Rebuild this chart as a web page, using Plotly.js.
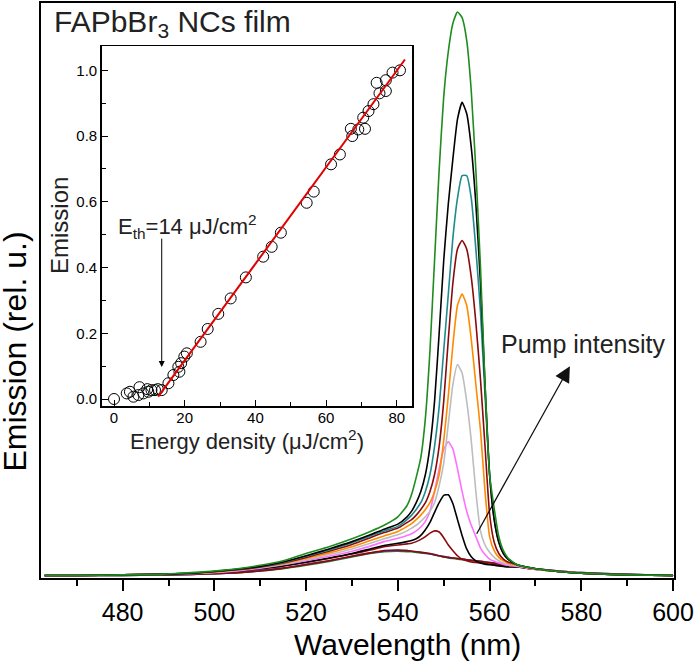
<!DOCTYPE html>
<html>
<head>
<meta charset="utf-8">
<script src="https://cdn.plot.ly/plotly-3.0.1.min.js"></script>
<style>html,body{margin:0;padding:0;background:#fff;}#chart{width:694px;height:661px;}</style>
</head>
<body>
<div id="chart"></div>
<script>
// Wavelength grid (nm)
const wavelength = [463,470,480,488,495,500,505,510,515,520,525,530,534,537,540,542,543,544,545,546,547,548,549,550,551,552,553,554,555,556,557,558,559,560,561,562,563,564,566,568,571,575,580,590,600];

// Spontaneous emission spectra (below threshold)
const spontRed   = [0.001,0.001,0.001,0.002,0.003,0.004,0.006,0.009,0.014,0.020,0.027,0.035,0.041,0.045,0.046,0.045,0.044,0.043,0.042,0.041,0.040,0.038,0.036,0.034,0.033,0.032,0.031,0.030,0.029,0.028,0.027,0.026,0.025,0.024,0.023,0.022,0.021,0.020,0.017,0.015,0.012,0.009,0.006,0.003,0.001];
const spontBlue  = [0.001,0.001,0.001,0.002,0.003,0.004,0.006,0.010,0.014,0.021,0.027,0.035,0.041,0.044,0.045,0.045,0.044,0.043,0.042,0.041,0.039,0.038,0.036,0.035,0.033,0.032,0.031,0.030,0.029,0.028,0.027,0.026,0.025,0.024,0.023,0.022,0.021,0.020,0.017,0.015,0.012,0.009,0.006,0.003,0.001];
const spontGreen = [0.001,0.001,0.001,0.002,0.003,0.004,0.006,0.009,0.013,0.019,0.026,0.034,0.040,0.043,0.044,0.043,0.043,0.042,0.041,0.040,0.039,0.037,0.036,0.034,0.032,0.031,0.030,0.029,0.028,0.027,0.026,0.025,0.024,0.023,0.022,0.021,0.020,0.019,0.017,0.014,0.011,0.008,0.005,0.003,0.001];

// ASE spectra, increasing pump intensity
const ase1 = [0.001,0.001,0.002,0.003,0.004,0.006,0.009,0.013,0.018,0.024,0.031,0.039,0.046,0.052, 0.055,0.057,0.058,0.061,0.065,0.070,0.076,0.080,0.078,0.068,0.055,0.045,0.036,0.030,0.027,0.025,0.024,0.023,0.022,0.021,0.020,0.019,0.018,0.017, 0.016,0.014,0.011,0.008,0.005,0.002,0.001];
const ase2 = [0.001,0.001,0.002,0.003,0.004,0.006,0.009,0.013,0.018,0.025,0.032,0.040,0.048,0.054, 0.058,0.061,0.063,0.066,0.072,0.082,0.095,0.113,0.130,0.143,0.144,0.128,0.100,0.072,0.048,0.034,0.027,0.023,0.021,0.020,0.019,0.018,0.017,0.016, 0.016,0.014,0.011,0.008,0.005,0.002,0.001];
const ase3 = [0.001,0.001,0.002,0.003,0.004,0.006,0.009,0.014,0.020,0.027,0.035,0.044,0.053,0.061, 0.067,0.072,0.075,0.080,0.087,0.097,0.115,0.150,0.190,0.225,0.238,0.225,0.190,0.150,0.115,0.090,0.070,0.050,0.038,0.030,0.026,0.023,0.021,0.019, 0.017,0.014,0.011,0.008,0.005,0.002,0.001];
const ase4 = [0.001,0.001,0.002,0.003,0.005,0.007,0.010,0.015,0.021,0.029,0.038,0.048,0.058,0.066, 0.073,0.080,0.085,0.090,0.097,0.105,0.115,0.130,0.160,0.200,0.270,0.340,0.375,0.360,0.310,0.240,0.150,0.080,0.055,0.042,0.033,0.027,0.023,0.021, 0.018,0.015,0.011,0.008,0.005,0.002,0.001];
const ase5 = [0.001,0.001,0.002,0.003,0.005,0.007,0.011,0.016,0.022,0.031,0.041,0.052,0.063,0.071, 0.079,0.088,0.093,0.100,0.108,0.118,0.130,0.150,0.180,0.240,0.320,0.410,0.480,0.500,0.480,0.420,0.340,0.260,0.150,0.070,0.045,0.033,0.027,0.023, 0.019,0.015,0.011,0.008,0.005,0.002,0.001];
const ase6 = [0.001,0.001,0.002,0.003,0.005,0.008,0.011,0.016,0.023,0.033,0.044,0.056,0.068,0.077, 0.085,0.095,0.100,0.108,0.118,0.130,0.150,0.180,0.230,0.310,0.420,0.520,0.580,0.595,0.580,0.530,0.450,0.350,0.230,0.110,0.060,0.040,0.030,0.025, 0.020,0.016,0.012,0.008,0.005,0.002,0.001];
const ase7 = [0.001,0.001,0.002,0.003,0.005,0.008,0.012,0.017,0.024,0.035,0.046,0.059,0.071,0.080, 0.088,0.100,0.108,0.118,0.130,0.150,0.180,0.230,0.300,0.400,0.500,0.600,0.670,0.710,0.710,0.670,0.580,0.470,0.320,0.180,0.100,0.060,0.040,0.030, 0.020,0.016,0.012,0.008,0.005,0.002,0.001];
const ase8 = [0.001,0.001,0.002,0.003,0.005,0.008,0.012,0.017,0.025,0.036,0.048,0.061,0.073,0.083, 0.092,0.105,0.115,0.130,0.150,0.180,0.230,0.310,0.430,0.560,0.660,0.740,0.810,0.840,0.820,0.760,0.660,0.520,0.340,0.180,0.100,0.060,0.040,0.030, 0.020,0.016,0.012,0.008,0.005,0.002,0.001];
const ase9 = [0.001,0.001,0.002,0.003,0.006,0.009,0.013,0.019,0.027,0.040,0.052,0.066,0.079,0.090, 0.105,0.125,0.145,0.175,0.210,0.280,0.400,0.560,0.720,0.850,0.930,0.980,1.000,0.990,0.950,0.860,0.720,0.550,0.340,0.180,0.120,0.070,0.045,0.032, 0.020,0.016,0.012,0.008,0.005,0.002,0.001];

// Inset: emission vs energy density
const energyDensity = [0,3.6,4.5,5.5,6.9,7.2,8.3,9.4,9.7,10.6,11.6,12.4,13.5,15.4,16.8,18.2,18.5,19.0,19.9,20.6,24.5,26.5,29.5,33.0,37.3,42.2,44.6,47.2,54.5,56.5,61.4,63.9,67.0,67.4,69.1,70.5,71.0,72.0,73.4,74.3,75.1,76.9,76.9,78.8,80.9];
const emissionInt   = [0.0,0.017,0.022,0.007,0.012,0.036,0.017,0.030,0.022,0.027,0.027,0.030,0.027,0.048,0.073,0.098,0.083,0.109,0.129,0.139,0.174,0.213,0.259,0.306,0.370,0.433,0.463,0.506,0.597,0.631,0.714,0.744,0.822,0.800,0.820,0.856,0.822,0.876,0.897,0.962,0.930,0.970,0.937,0.993,1.000];
const fitX = [12.5, 82.3];
const fitY = [0.007, 1.033];

const xTicks = [480,500,520,540,560,580,600];
const insetXTicks = [0,20,40,60,80];
const insetYTicks = [0.0,0.2,0.4,0.6,0.8,1.0];

const series = [
  {y: spontGreen, c: '#1e8c1e'},
  {y: spontBlue,  c: '#3a46c8'},
  {y: spontRed,   c: '#8b0a0a'},
  {y: ase1, c: '#8b0a0a'},
  {y: ase2, c: '#000000'},
  {y: ase3, c: '#ff70ff'},
  {y: ase4, c: '#bdbdbd'},
  {y: ase5, c: '#ff8a00'},
  {y: ase6, c: '#8b0a0a'},
  {y: ase7, c: '#208a90'},
  {y: ase8, c: '#000000'},
  {y: ase9, c: '#1e8c1e'}
];

const traces = series.map(s => ({
  x: wavelength, y: s.y, type: 'scatter', mode: 'lines',
  line: {color: s.c, width: 1.6, shape: 'spline', smoothing: 0.5},
  xaxis: 'x', yaxis: 'y', hoverinfo: 'skip'
}));

traces.push({
  x: energyDensity, y: emissionInt, type: 'scatter', mode: 'markers',
  marker: {symbol: 'circle-open', size: 11, color: '#000', line: {width: 1, color: '#000'}},
  xaxis: 'x2', yaxis: 'y2'
});
traces.push({
  x: fitX, y: fitY, type: 'scatter', mode: 'lines',
  line: {color: '#e00000', width: 2},
  xaxis: 'x2', yaxis: 'y2'
});

const L = 41, R = 674, T = 3, B = 578;
const px = v => (v - L) / (R - L);
const py = v => (B - v) / (B - T);
const FONT = 'Liberation Sans, Arial, sans-serif';

const layout = {
  width: 694, height: 661,
  margin: {l: L, r: 694 - R, t: T, b: 661 - B},
  paper_bgcolor: '#fff', plot_bgcolor: 'rgba(0,0,0,0)',
  showlegend: false,
  font: {family: FONT, color: '#000'},
  xaxis: {
    domain: [0, 1], range: [462.2, 600.2],
    tickmode: 'array', tickvals: xTicks, ticktext: xTicks.map(String),
    ticks: 'outside', ticklen: 11, tickwidth: 2, tickcolor: '#000',
    minor: {dtick: 10, tick0: 470, ticks: 'outside', ticklen: 6, tickwidth: 2, tickcolor: '#000'},
    showline: true, linewidth: 2, linecolor: '#000', mirror: true,
    showgrid: false, zeroline: false,
    tickfont: {size: 25, family: FONT}
  },
  yaxis: {
    domain: [0, 1], range: [-0.0035, 1.016],
    showticklabels: false, ticks: '',
    showline: true, linewidth: 2, linecolor: '#000', mirror: true,
    showgrid: false, zeroline: false
  },
  xaxis2: {
    anchor: 'y2', domain: [px(101.7), px(412)], range: [-3.48, 84.3],
    tickmode: 'array', tickvals: insetXTicks, ticktext: insetXTicks.map(String),
    ticks: 'inside', ticklen: 6, tickwidth: 1, tickcolor: '#000',
    minor: {dtick: 10, tick0: 0, ticks: 'inside', ticklen: 4, tickwidth: 1, tickcolor: '#000'},
    showline: true, linewidth: 1.5, linecolor: '#000', mirror: true,
    showgrid: false, zeroline: false, ticklabelstandoff: -3,
    tickfont: {size: 15, family: FONT}
  },
  yaxis2: {
    anchor: 'x2', domain: [py(406), py(46)], range: [-0.0213, 1.074],
    tickmode: 'array', tickvals: insetYTicks, ticktext: insetYTicks.map(v => v.toFixed(1)),
    ticks: 'inside', ticklen: 6, tickwidth: 1, tickcolor: '#000',
    minor: {dtick: 0.1, tick0: 0, ticks: 'inside', ticklen: 4, tickwidth: 1, tickcolor: '#000'},
    showline: true, linewidth: 1.5, linecolor: '#000', mirror: true,
    showgrid: false, zeroline: false,
    tickfont: {size: 15, family: FONT}
  },
  annotations: [
    {text: 'FAPbBr<sub>3</sub> NCs film', xref: 'paper', yref: 'paper', x: px(52), y: py(24),
     xanchor: 'left', yanchor: 'middle', showarrow: false, font: {size: 30, family: FONT, color: '#222'}},
    {text: 'Pump intensity', xref: 'paper', yref: 'paper', x: px(583), y: py(344),
     xanchor: 'center', yanchor: 'middle', showarrow: false, font: {size: 25, family: FONT, color: '#222'}},
    {text: 'E<sub>th</sub>=14 μJ/cm<sup>2</sup>', xref: 'paper', yref: 'paper', x: px(116), y: py(226),
     xanchor: 'left', yanchor: 'middle', showarrow: false, font: {size: 22, family: FONT, color: '#222'}},
    {text: 'Emission', xref: 'paper', yref: 'paper', x: px(59), y: py(226), textangle: -90,
     xanchor: 'center', yanchor: 'middle', showarrow: false, font: {size: 24, family: FONT, color: '#222'}},
    {text: 'Energy density (μJ/cm<sup>2</sup>)', xref: 'paper', yref: 'paper', x: px(247), y: py(440),
     xanchor: 'center', yanchor: 'middle', showarrow: false, font: {size: 22, family: FONT, color: '#222'}},
    {text: 'Wavelength (nm)', xref: 'paper', yref: 'paper', x: px(407.5), y: py(644.5),
     xanchor: 'center', yanchor: 'middle', showarrow: false, font: {size: 30, family: FONT, color: '#000'}},
    {text: 'Emission (rel. u.)', xref: 'paper', yref: 'paper', x: px(15), y: py(351.5), textangle: -90,
     xanchor: 'center', yanchor: 'middle', showarrow: false, font: {size: 32, family: FONT, color: '#000'}},
    {text: '', xref: 'x2', yref: 'y2', x: 13.5, y: 0.097, ax: 0, ay: -130, axref: 'pixel', ayref: 'pixel',
     showarrow: true, arrowhead: 2, arrowsize: 1.2, arrowwidth: 1, arrowcolor: '#000', standoff: 0},
    {text: '', xref: 'x', yref: 'y', x: 577.5, y: 0.372, ax: -94, ay: 169, axref: 'pixel', ayref: 'pixel',
     showarrow: true, arrowhead: 2, arrowsize: 2.4, arrowwidth: 1.3, arrowcolor: '#111', standoff: 0}
  ]
};

Plotly.newPlot('chart', traces, layout, {displayModeBar: false, staticPlot: true});
</script>
</body>
</html>
